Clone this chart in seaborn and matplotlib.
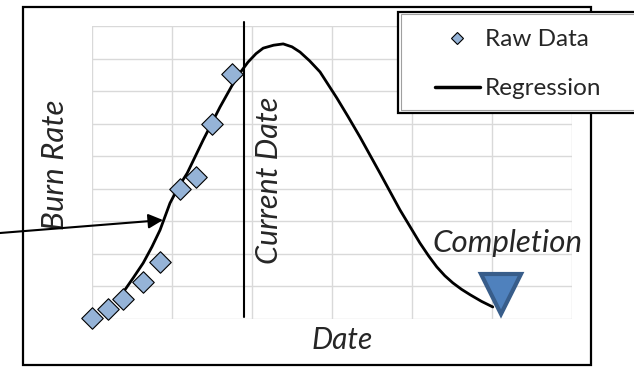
import matplotlib
matplotlib.use("Agg")
import matplotlib.pyplot as plt
from matplotlib.lines import Line2D
from matplotlib.patches import Rectangle
import seaborn as sns

# raw data points (x in date-grid units, y in burn-rate grid units)
raw_x = [0.0, 0.20, 0.39, 0.64, 0.85, 1.10, 1.30, 1.50, 1.75]
raw_y = [0.02, 0.30, 0.60, 1.15, 1.76, 3.98, 4.37, 5.99, 7.52]

# regression curve
reg_x = [0.41, 0.52, 0.64, 0.75, 0.85, 0.975, 1.08, 1.19, 1.39, 1.60, 1.75, 1.85,
         1.95, 2.05, 2.14, 2.27, 2.39, 2.50, 2.60, 2.72, 2.85, 3.06, 3.20, 3.35,
         3.60, 3.85, 4.10, 4.21, 4.31, 4.41, 4.51, 4.62, 4.73, 4.87, 5.01]
reg_y = [0.89, 1.28, 1.72, 2.22, 2.73, 3.56, 4.05, 4.48, 5.50, 6.51, 7.17, 7.56,
         7.89, 8.15, 8.32, 8.41, 8.45, 8.36, 8.20, 7.93, 7.59, 6.79, 6.22, 5.59,
         4.48, 3.35, 2.33, 1.93, 1.60, 1.33, 1.11, 0.91, 0.74, 0.54, 0.37]

current_date = 1.9
completion_x = 5.11
completion_y = 0.77
arrow_tip = (0.8875, 3.04)

sns.set_style("white")
plt.rcParams["font.family"] = ["Lato", "DejaVu Sans"]

fig = plt.figure(figsize=(6.34, 3.67), dpi=100)
ax = fig.add_axes([92 / 634, 1 - 319 / 367, 480 / 634, 293 / 367])

# outer chart frame
fig.patches.append(Rectangle((23 / 634, 1 - 365 / 367), 568 / 634, 358 / 367,
                             transform=fig.transFigure, fill=False,
                             edgecolor="black", lw=1.6, zorder=0))

sns.lineplot(x=reg_x, y=reg_y, color="black", lw=2, estimator=None, sort=False, ax=ax)
sns.scatterplot(x=raw_x, y=raw_y, marker="D", s=120, color="#95B3D7",
                edgecolor="black", linewidth=0.8, clip_on=False, zorder=3, ax=ax)

ax.axvline(current_date, ymin=0.006, ymax=1.013, color="black", lw=1.5, clip_on=False)
ax.plot([completion_x], [completion_y], marker="v", ms=29, color="#4F81BD",
        mec="#385D8A", mew=3, clip_on=False, zorder=4)

ax.set_xlim(0, 6)
ax.set_ylim(0, 9)
ax.set_xticks(range(7))
ax.set_yticks(range(10))
ax.set_xticklabels([])
ax.set_yticklabels([])
ax.tick_params(length=0)
ax.grid(True, color="#D9D9D9", lw=1)
for s in ax.spines.values():
    s.set_visible(False)

ax.text(3.125, -0.92, "Date", fontsize=21.5, style="italic", ha="center", va="baseline")
ax.text(-0.46, 4.73, "Burn Rate", fontsize=22.5, style="italic", rotation=90,
        ha="center", va="center")
ax.text(2.21, 4.27, "Current Date", fontsize=22, style="italic", rotation=90,
        ha="center", va="center")
ax.text(5.19, 2.06, "Completion", fontsize=22.5, style="italic", ha="center", va="baseline")

ax.annotate("", xy=arrow_tip, xytext=(0, 134), textcoords="figure pixels",
            annotation_clip=False,
            arrowprops=dict(arrowstyle="-|>", color="black", lw=1.5,
                            mutation_scale=22, shrinkA=0, shrinkB=0))

# legend box (double border, runs off the right edge like the original)
fig.patches.append(Rectangle((398 / 634, 1 - 113 / 367), 250 / 634, 101 / 367,
                             transform=fig.transFigure, facecolor="white",
                             edgecolor="black", lw=1.6, zorder=4))
fig.patches.append(Rectangle((401 / 634, 1 - 110 / 367), 250 / 634, 96 / 367,
                             transform=fig.transFigure, fill=False,
                             edgecolor="#A0A0A0", lw=0.8, zorder=4))

handles = [Line2D([], [], marker="D", ls="none", ms=6.5, mfc="#95B3D7", mec="black", mew=0.8),
           Line2D([], [], color="black", lw=2.5)]
leg = fig.legend(handles, ["Raw Data", "Regression"], loc="upper left",
                 bbox_to_anchor=(435 / 634, 1 - 29 / 367),
                 fontsize=17.5, handlelength=1.85, handletextpad=0.2,
                 labelspacing=1.16, borderpad=0, borderaxespad=0, frameon=False)
leg.set_zorder(5)

fig.savefig("out.png", dpi=100)
